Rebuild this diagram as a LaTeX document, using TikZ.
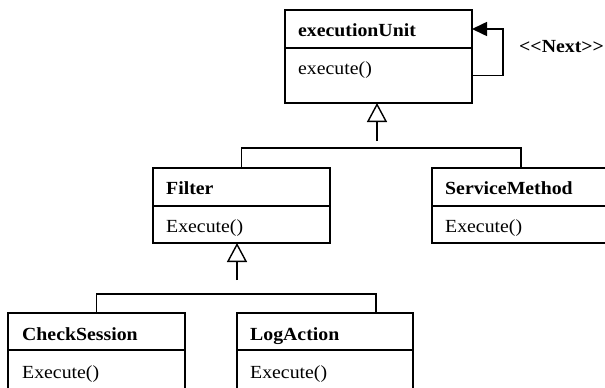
\documentclass[tikz,border=0pt]{standalone}
\usepackage{fontspec}
\setmainfont{Liberation Serif}[FakeStretch=1.07]
\usetikzlibrary{arrows.meta}
\begin{document}
\begin{tikzpicture}[x=1pt,y=-1pt,
  umlbox/.style={draw, line width=1.8pt, anchor=north west, inner sep=0pt, outer sep=0pt, minimum width=177pt},
  classname/.style={anchor=base west, inner sep=0pt, font=\fontsize{18.5pt}{22pt}\selectfont\bfseries},
  operation/.style={anchor=base west, inner sep=0pt, font=\fontsize{18.5pt}{22pt}\selectfont},
  gen/.style={line width=1.4pt, -{Triangle[open, length=19pt, width=20pt, line width=1.4pt]}},
  tree/.style={line width=1.5pt},
  assoc/.style={line width=1.6pt, -{Triangle[length=15pt, width=14pt]}}]
\fill[white] (0,0) rectangle (605,388);
\useasboundingbox (0,0) rectangle (605,388);

% executionUnit
\node[umlbox, minimum width=187pt, minimum height=38pt] (euh) at (285,10) {};
\node[umlbox, minimum width=187pt, minimum height=55pt] (eub) at (euh.south west) {};
\node[classname] (eut) at ([xshift=13pt,yshift=-26.5pt]euh.north west) {executionUnit};
\node[operation] (euo) at ([xshift=13pt,yshift=-26pt]eub.north west) {execute()};

% Filter
\node[umlbox, minimum height=38pt] (flh) at (153,168) {};
\node[umlbox, minimum height=37pt] (flb) at (flh.south west) {};
\node[classname] (flt) at ([xshift=13pt,yshift=-26.5pt]flh.north west) {Filter};
\node[operation] (flo) at ([xshift=13pt,yshift=-26pt]flb.north west) {Execute()};

% ServiceMethod
\node[umlbox, minimum width=178pt, minimum height=38pt] (smh) at (432,168) {};
\node[umlbox, minimum width=178pt, minimum height=37pt] (smb) at (smh.south west) {};
\node[classname] (smt) at ([xshift=13pt,yshift=-26.5pt]smh.north west) {ServiceMethod};
\node[operation] (smo) at ([xshift=13pt,yshift=-26pt]smb.north west) {Execute()};

% CheckSession
\node[umlbox, minimum height=37pt] (csh) at (8,313) {};
\node[umlbox, minimum height=40pt] (csb) at (csh.south west) {};
\node[classname] (cst) at ([xshift=14pt,yshift=-27pt]csh.north west) {CheckSession};
\node[operation] (cso) at ([xshift=14pt,yshift=-28pt]csb.north west) {Execute()};

% LogAction
\node[umlbox, minimum width=176pt, minimum height=37pt] (lah) at (237,313) {};
\node[umlbox, minimum width=176pt, minimum height=40pt] (lab) at (lah.south west) {};
\node[classname] (lat) at ([xshift=13pt,yshift=-27pt]lah.north west) {LogAction};
\node[operation] (lao) at ([xshift=13pt,yshift=-28pt]lab.north west) {Execute()};

% generalization: Filter, ServiceMethod -> executionUnit
\coordinate (g1) at (377,141);
\coordinate (b1) at (0,148);
\draw[gen] (g1) -- (g1 |- eub.south);
\draw[tree] (flh.north) -- (flh.north |- b1) -| (smh.north);

% generalization: CheckSession, LogAction -> Filter
\coordinate (g2) at (237,280);
\coordinate (b2r) at (376,294);
\draw[gen] (g2) -- (g2 |- flb.south);
\draw[tree] (csh.north) |- (b2r) -- (b2r |- lah.north);

% self association
\coordinate (lp) at (503,29);
\draw[assoc] (eub.east) -| (lp) -- (euh.east);
\node[classname] (next) at (519,52) {<{}<Next>{}>};
\end{tikzpicture}
\end{document}
